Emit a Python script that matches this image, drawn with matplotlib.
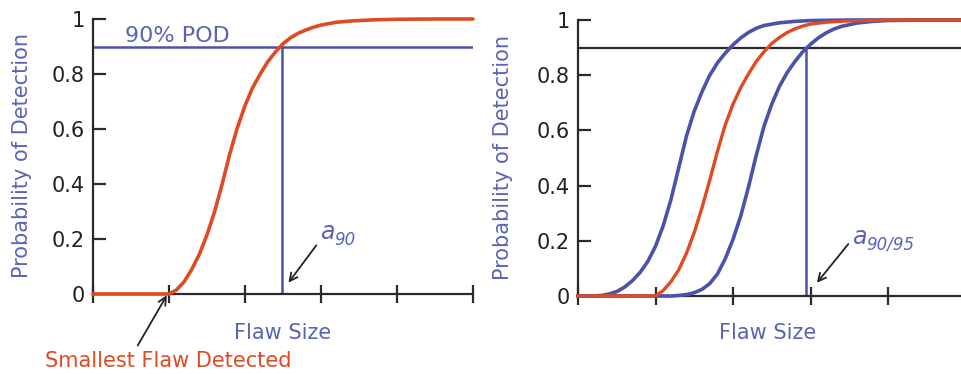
import matplotlib
matplotlib.use("Agg")
import matplotlib.pyplot as plt

# ---- data ----
x_ticks = [0, 1, 2, 3, 4, 5]
y_ticks = [0, 0.2, 0.4, 0.6, 0.8, 1]
y_ticklabels = ["0", "0.2", "0.4", "0.6", "0.8", "1"]

# left panel: POD curve
pod_x = [0.0, 0.9, 1.0, 1.1, 1.2, 1.3, 1.4, 1.5, 1.6, 1.7, 1.8, 1.9, 2.0, 2.1, 2.2, 2.3, 2.4,
         2.5, 2.6, 2.7, 2.8, 2.9, 3.0, 3.2, 3.4, 3.7, 4.0, 4.5, 5.0]
pod_y = [0.0, 0.0, 0.0, 0.015, 0.045, 0.09, 0.145, 0.215, 0.30, 0.40, 0.51, 0.605, 0.685, 0.75,
         0.80, 0.845, 0.88, 0.91, 0.932, 0.948, 0.96, 0.97, 0.978, 0.988, 0.993, 0.997, 0.999,
         1.0, 1.0]

# right panel: lower bound (left blue), POD (red), upper bound (right blue)
lo_x = [0.0, 0.2, 0.3, 0.4, 0.5, 0.6, 0.7, 0.8, 0.9, 1.0, 1.1, 1.2, 1.3, 1.4, 1.5, 1.6, 1.7,
        1.8, 1.9, 2.0, 2.1, 2.2, 2.3, 2.4, 2.6, 2.8, 3.0, 3.5, 5.0]
lo_y = [0.0, 0.0, 0.002, 0.007, 0.016, 0.032, 0.055, 0.085, 0.125, 0.18, 0.255, 0.35, 0.465,
        0.58, 0.67, 0.74, 0.80, 0.845, 0.88, 0.91, 0.935, 0.955, 0.97, 0.98, 0.99, 0.995,
        0.998, 1.0, 1.0]

mid_x = [0.0, 1.0, 1.1, 1.2, 1.3, 1.4, 1.5, 1.6, 1.7, 1.8, 1.9, 2.0, 2.1, 2.2, 2.3, 2.4, 2.5,
         2.6, 2.7, 2.8, 2.9, 3.0, 3.2, 3.5, 4.0, 5.0]
mid_y = [0.0, 0.0, 0.02, 0.052, 0.095, 0.155, 0.23, 0.32, 0.42, 0.525, 0.62, 0.695, 0.755,
         0.805, 0.85, 0.885, 0.915, 0.937, 0.955, 0.968, 0.978, 0.985, 0.992, 0.997, 1.0, 1.0]

hi_x = [0.0, 1.2, 1.3, 1.4, 1.5, 1.6, 1.7, 1.8, 1.9, 2.0, 2.1, 2.2, 2.3, 2.4, 2.5, 2.6, 2.7,
        2.8, 2.9, 3.0, 3.1, 3.2, 3.3, 3.4, 3.6, 3.8, 4.0, 4.5, 5.0]
hi_y = [0.0, 0.0, 0.002, 0.005, 0.012, 0.024, 0.045, 0.08, 0.135, 0.205, 0.29, 0.395, 0.51,
        0.615, 0.695, 0.76, 0.81, 0.85, 0.885, 0.912, 0.935, 0.953, 0.967, 0.977, 0.989,
        0.995, 0.998, 1.0, 1.0]

pod_level = 0.9
a90 = 2.49
a9095 = 2.94

# ---- styles ----
RED = "#e04a22"
BLUE = "#4a52aa"
TXTBLUE = "#5a63b8"
AXC = "#2a2a2a"
FS = 15

plt.rcParams["font.family"] = ["DejaVu Sans"]

fig = plt.figure(figsize=(9.61, 3.74), dpi=100)
W, H = 961, 374
axL = fig.add_axes([93 / W, 1 - 294 / H, 380 / W, 275 / H])
axR = fig.add_axes([578 / W, 1 - 296 / H, 387.5 / W, 276 / H])

for ax in (axL, axR):
    ax.set_xlim(0, 5)
    ax.set_ylim(0, 1)
    for s in ("top", "right"):
        ax.spines[s].set_visible(False)
    for s in ("left", "bottom"):
        ax.spines[s].set_color(AXC)
        ax.spines[s].set_linewidth(1.6)
    ax.set_xticks(x_ticks)
    ax.set_xticklabels([])
    ax.set_yticks(y_ticks)
    ax.set_yticklabels(y_ticklabels, fontsize=FS, color="#222222")
    ax.tick_params(axis="x", direction="inout", length=13, width=1.6, color=AXC)
    ax.tick_params(axis="y", direction="in", length=9, width=1.6, color=AXC, pad=6)
    ax.patch.set_alpha(0)


def sub_label(ax, x, y, main, sub):
    ax.text(x, y, main, color=TXTBLUE, fontsize=17, style="italic")
    ax.annotate(sub, xy=(x, y), xytext=(10, -4), textcoords="offset points",
                color=TXTBLUE, fontsize=12, style="italic")


# left panel
axL.axhline(pod_level, color=BLUE, lw=1.8, zorder=2)
axL.plot([a90, a90], [0, pod_level], color=BLUE, lw=1.8, zorder=2)
axL.plot(pod_x, pod_y, color=RED, lw=2.6, zorder=3, clip_on=False, solid_capstyle="round")
axL.text(0.42, 0.915, "90% POD", color=TXTBLUE, fontsize=16)
sub_label(axL, 2.99, 0.2, "a", "90")
axL.annotate("", xy=(2.55, 0.033), xytext=(2.96, 0.185),
             arrowprops=dict(arrowstyle="->", color="#222222", lw=1.3, mutation_scale=14))
axL.annotate("", xy=(0.99, 0.004), xytext=(0.57, -0.196),
             arrowprops=dict(arrowstyle="->", color="#222222", lw=1.3, mutation_scale=14),
             annotation_clip=False)

# right panel
axR.axhline(pod_level, color=AXC, lw=1.6, zorder=2)
axR.plot([a9095, a9095], [0, pod_level], color=BLUE, lw=1.8, zorder=2)
axR.plot(lo_x, lo_y, color=BLUE, lw=2.6, zorder=3, clip_on=False)
axR.plot(hi_x, hi_y, color=BLUE, lw=2.6, zorder=3, clip_on=False)
axR.plot(mid_x, mid_y, color=RED, lw=2.4, zorder=4, clip_on=False)
sub_label(axR, 3.54, 0.19, "a", "90/95")
axR.annotate("", xy=(3.06, 0.04), xytext=(3.51, 0.196),
             arrowprops=dict(arrowstyle="->", color="#222222", lw=1.3, mutation_scale=14))

# labels
fig.text(22 / W, 1 - 156 / H, "Probability of Detection", rotation=90, color=TXTBLUE,
         fontsize=FS, ha="center", va="center")
fig.text(503 / W, 1 - 157 / H, "Probability of Detection", rotation=90, color=TXTBLUE,
         fontsize=FS, ha="center", va="center")
fig.text(283 / W, 1 - 333 / H, "Flaw Size", color=TXTBLUE, fontsize=FS, ha="center", va="center")
fig.text(768 / W, 1 - 333 / H, "Flaw Size", color=TXTBLUE, fontsize=FS, ha="center", va="center")
fig.text(168 / W, 1 - 361 / H, "Smallest Flaw Detected", color=RED, fontsize=FS,
         ha="center", va="center")

fig.savefig("out.png", dpi=100)
